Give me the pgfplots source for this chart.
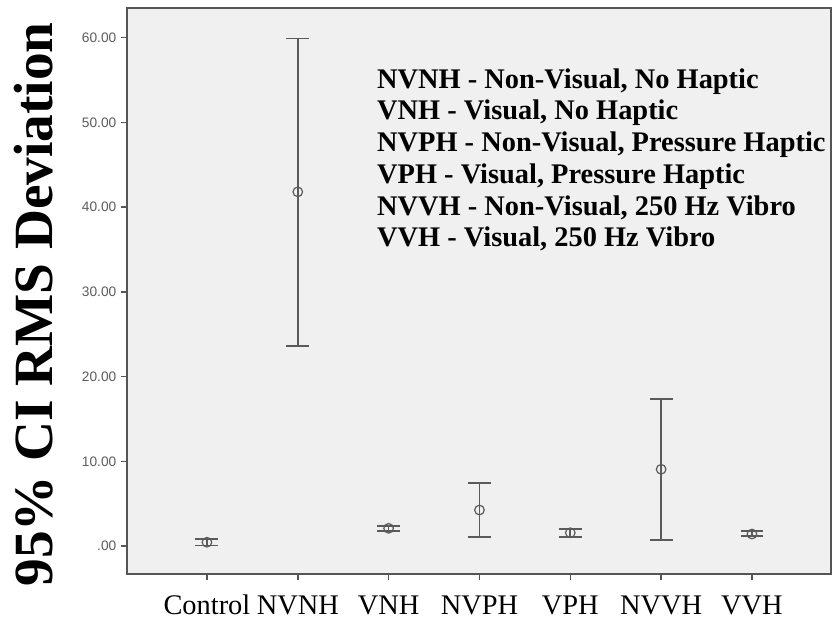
\documentclass[border=0pt]{standalone}
\usepackage{fontspec}
\setmainfont{Liberation Serif}
\newfontfamily\arial{Liberation Sans}
\usepackage{pgfplots}
\pgfplotsset{compat=1.18}
\definecolor{axgray}{HTML}{555555}
\definecolor{bggray}{HTML}{F0F0F0}
\definecolor{errgray}{HTML}{5A5A5A}
\definecolor{ticklab}{HTML}{5C5C5C}
\begin{document}
\begin{tikzpicture}
\begin{axis}[
  scale only axis, width=528pt, height=424.5pt,
  xmin=-0.88, xmax=6.87, ymin=-3.3, ymax=63.5,
  axis background/.style={fill=bggray},
  axis line style={axgray, line width=1.1pt},
  xtick={0,1,2,3,4,5,6},
  xticklabels={Control,NVNH,VNH,NVPH,VPH,NVVH,VVH},
  ytick={0,10,20,30,40,50,60},
  yticklabels={.00,10.00,20.00,30.00,40.00,50.00,60.00},
  tick align=outside, tick pos=left,
  major tick length=4.5pt,
  tick style={axgray, line width=1.1pt},
  yticklabel style={font=\arial\fontsize{10.3}{12}\selectfont, text=ticklab},
  xticklabel style={font=\fontsize{21.3}{24}\selectfont, text=black, anchor=base, yshift=-25.5pt},
  clip=false,
]
\addplot[only marks, mark=o, mark size=3.6pt, mark options={errgray, line width=0.9pt},
  error bars/.cd, y dir=both, y explicit,
  error bar style={errgray, line width=1.3pt},
  error mark options={errgray, line width=1.3pt, mark size=8.6pt, rotate=90}]
  coordinates {
  (0,0.45) += (0,0.40) -= (0,0.40)
  (1,41.8) += (0,18.1) -= (0,18.2)
  (2,2.09) += (0,0.31) -= (0,0.34)
  (3,4.25) += (0,3.15) -= (0,3.15)
  (4,1.57) += (0,0.43) -= (0,0.47)
  (5,9.06) += (0,8.33) -= (0,8.35)
  (6,1.42) += (0,0.32) -= (0,0.27)
  };
\node[rotate=90, anchor=base, font=\bfseries\fontsize{41.5}{46}\selectfont]
  at (rel axis cs:-0.1065,0.4765) {95\% CI RMS Deviation};
\node[anchor=north west, inner sep=0pt, align=left,
  font=\bfseries\fontsize{21.3}{23.8}\selectfont]
  at (rel axis cs:0.355,0.8935) {NVNH - Non-Visual, No Haptic\\
VNH - Visual, No Haptic\\
NVPH - Non-Visual, Pressure Haptic\\
VPH - Visual, Pressure Haptic\\
NVVH - Non-Visual, 250 Hz Vibro\\
VVH - Visual, 250 Hz Vibro};
\end{axis}
\pgfresetboundingbox
\path[use as bounding box] ([xshift=-95.25pt,yshift=-34.5pt]current axis.south west) rectangle ([xshift=0.75pt,yshift=6pt]current axis.north east);
\end{tikzpicture}
\end{document}
